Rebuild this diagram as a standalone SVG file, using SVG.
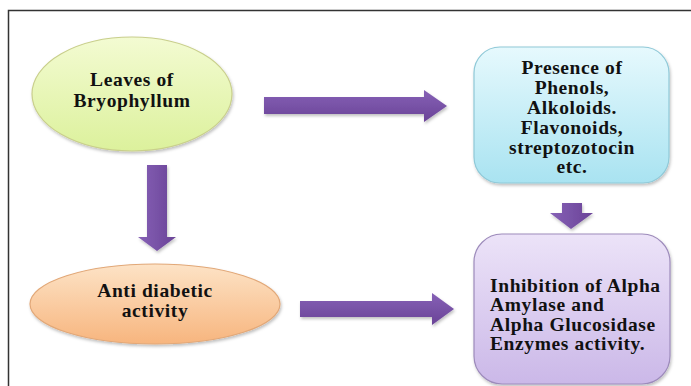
<svg xmlns="http://www.w3.org/2000/svg" width="691" height="386" viewBox="0 0 691 386">
<defs>
<linearGradient id="gGreen" x1="0" y1="0" x2="0" y2="1"><stop offset="0" stop-color="#f3fbd2"/><stop offset="1" stop-color="#dcf19c"/></linearGradient>
<linearGradient id="gOrange" x1="0" y1="0" x2="0" y2="1"><stop offset="0" stop-color="#fde3c6"/><stop offset="1" stop-color="#f7b57e"/></linearGradient>
<linearGradient id="gCyan" x1="0" y1="0" x2="0" y2="1"><stop offset="0" stop-color="#e6f9fd"/><stop offset="1" stop-color="#a9e3f1"/></linearGradient>
<linearGradient id="gLav" x1="0" y1="0" x2="0" y2="1"><stop offset="0" stop-color="#ece3f8"/><stop offset="1" stop-color="#cbb8e8"/></linearGradient>
<linearGradient id="gArrowH" x1="0" y1="0" x2="0" y2="1"><stop offset="0" stop-color="#8661b6"/><stop offset="1" stop-color="#6a4397"/></linearGradient>
<linearGradient id="gArrowV" x1="0" y1="0" x2="1" y2="0"><stop offset="0" stop-color="#8661b6"/><stop offset="1" stop-color="#6a4397"/></linearGradient>
<filter id="sh" x="-10%" y="-10%" width="120%" height="125%"><feDropShadow dx="1" dy="2" stdDeviation="1.5" flood-color="#000" flood-opacity="0.25"/></filter>
</defs>
<style>
.t{font-family:"Liberation Serif","Times New Roman",serif;font-weight:bold;font-size:19.5px;letter-spacing:0.6px;fill:#111}
.c{text-anchor:middle}
</style>
<rect x="0" y="0" width="691" height="386" fill="#fff"/>
<path d="M8.5 386 V10.5 H691" fill="none" stroke="#333" stroke-width="1.5"/>
<g id="connectors">
<path d="M264 97 H424 V90 L447 106 L424 122 V114 H264 Z" fill="url(#gArrowH)" filter="url(#sh)"/>
<path d="M147 165 H167 V237 H176 L157 251 L138 237 H147 Z" fill="url(#gArrowV)" filter="url(#sh)"/>
<path d="M300 301 H432 V293 L454 309 L432 325 V317 H300 Z" fill="url(#gArrowH)" filter="url(#sh)"/>
<path d="M562 203 H582 V213 H593 L571 229 L550 213 H562 Z" fill="url(#gArrowV)" filter="url(#sh)"/>
</g>
<g id="leaves">
<ellipse cx="132" cy="94" rx="100" ry="57" fill="url(#gGreen)" stroke="#c9cf8c" stroke-width="1.2" filter="url(#sh)"/>
<text class="t c" x="132" y="86">Leaves of</text>
<text class="t c" x="132" y="107">Bryophyllum</text>
</g>
<g id="antidiabetic">
<ellipse cx="155" cy="304" rx="125" ry="40" fill="url(#gOrange)" stroke="#e2a878" stroke-width="1.2" filter="url(#sh)"/>
<text class="t c" x="155" y="297">Anti diabetic</text>
<text class="t c" x="155" y="317">activity</text>
</g>
<g id="presence">
<rect x="474" y="47" width="195" height="136" rx="26" fill="url(#gCyan)" stroke="#8fc9d8" stroke-width="1.2" filter="url(#sh)"/>
<text class="t c" x="572" y="74">Presence of</text>
<text class="t c" x="572" y="94">Phenols,</text>
<text class="t c" x="572" y="114">Alkoloids.</text>
<text class="t c" x="572" y="134">Flavonoids,</text>
<text class="t c" x="572" y="154">streptozotocin</text>
<text class="t c" x="572" y="173">etc.</text>
</g>
<g id="inhibition">
<rect x="474" y="234" width="196" height="150" rx="28" fill="url(#gLav)" stroke="#9d8bbb" stroke-width="1.2" filter="url(#sh)"/>
<text class="t" x="490" y="292">Inhibition of Alpha</text>
<text class="t" x="490" y="311">Amylase and</text>
<text class="t" x="490" y="331">Alpha Glucosidase</text>
<text class="t" x="490" y="350">Enzymes activity.</text>
</g>
</svg>
